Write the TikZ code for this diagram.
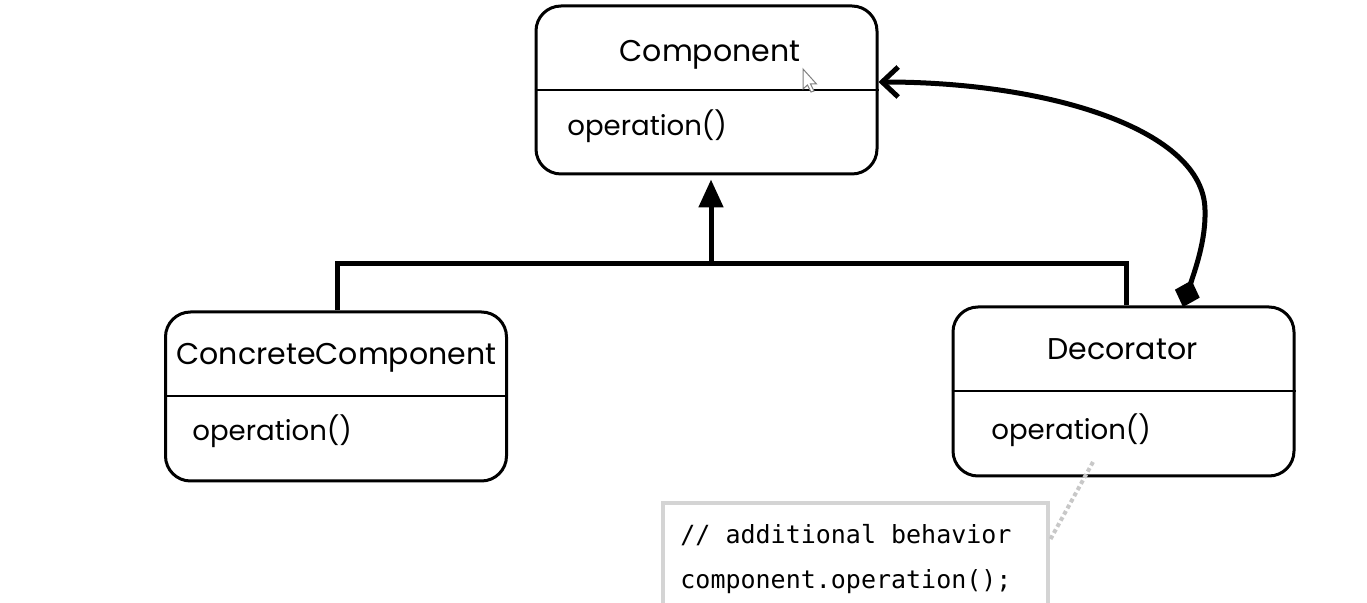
\documentclass[tikz,border=0pt]{standalone}
\usepackage{fontspec}
\setmainfont{Poppins}
\newfontfamily\codefont{DejaVu Sans Mono}
\usetikzlibrary{arrows.meta}
\definecolor{notegray}{HTML}{D4D4D4}
\definecolor{dotgray}{HTML}{C8C8C8}
\begin{document}
\begin{tikzpicture}[x=0.5pt,y=-0.5pt,
  umlbox/.style={draw, line width=1.5pt, rounded corners=12.5pt, minimum width=170.5pt, minimum height=84.5pt, inner sep=0pt},
  titletext/.style={anchor=base, inner sep=0pt, font=\fontsize{15}{18}\selectfont},
  opertext/.style={anchor=base west, inner sep=0pt, font=\fontsize{13.8}{16}\selectfont},
  divider/.style={line width=1pt},
  link/.style={line width=2.5pt},
  codetext/.style={anchor=base west, inner sep=0pt, font=\codefont\fontsize{12.5}{15}\selectfont},
  notebox/.style={draw=notegray, line width=2pt, minimum width=192.5pt, minimum height=70pt, inner sep=0pt, anchor=north west},
  notelink/.style={draw=dotgray, line width=2pt, dash pattern=on 2pt off 1.5pt},
]
\useasboundingbox (0,0) rectangle (1367,603);
\clip (0,0) rectangle (1367,603);

% boxes
\node[umlbox, minimum height=84pt] (comp) at (706.5,90) {};
\node[umlbox] (cc) at (336,396.5) {};
\node[umlbox] (dec) at (1123.5,391.5) {};
\draw[divider] (comp.west) -- (comp.east);
\draw[divider] (cc.west) -- (cc.east);
\draw[divider] (dec.west) -- (dec.east);

% texts
\node[titletext] (compt) at (710,62) {Component};
\node[opertext] (compo) at (567,136) {operation()};
\node[titletext] (cct) at (336.5,365) {ConcreteComponent};
\node[opertext] (cco) at (192,441) {operation()};
\node[titletext] (dect) at (1122.5,360) {Decorator};
\node[opertext] (deco) at (991,440) {operation()};

% inheritance
\coordinate (j) at (711,264);
\draw[link] (cc.north -| 337,0) -- (337,264) -- (1126,264) -- (dec.north -| 1126,0);
\draw[link, -{Triangle[length=14pt,width=12pt]}] (j) -- ([yshift=-2pt]j |- comp.south);

% aggregation curve
\coordinate (ds) at (1183,307);
\coordinate (ce) at ([yshift=4pt]comp.east);
\draw[link, {Diamond[length=14pt,width=13pt]}-{Straight Barb[length=8pt,width=15pt]}]
  (ds) .. controls (1195,270) and (1206,240) .. (1205,210)
       .. controls (1204,130) and (1050,82) .. (ce);

% note
\node[notebox] (note) at (661,501) {};
\node[codetext] (n1) at (680,544) {// additional behavior};
\node[codetext] (n2) at (680,589) {component.operation();};
\coordinate (dp) at (1093,462);
\draw[notelink] (dp) -- ([yshift=-19.5pt]note.north east);

% cursor
\draw[gray, fill=white, line width=0.5pt, shift={(803,69)}]
  (0,0) -- (0,20) -- (4.5,16) -- (8,23) -- (11,22) -- (7.5,15) -- (13.5,15) -- cycle;
\end{tikzpicture}
\end{document}
